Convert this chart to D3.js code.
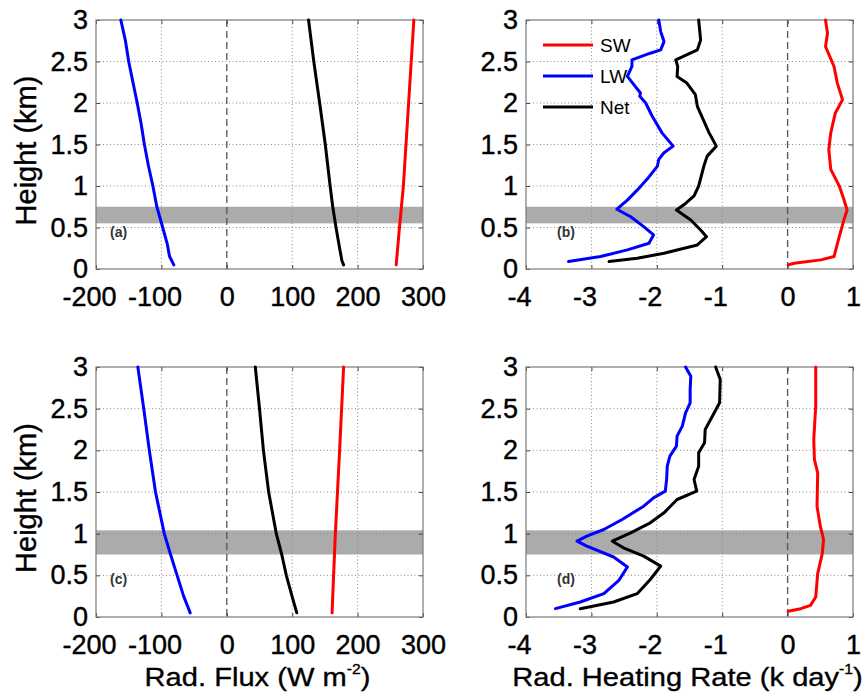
<!DOCTYPE html>
<html>
<head>
<meta charset="utf-8">
<script src="https://cdn.jsdelivr.net/npm/d3@7"></script>
<style>
  body { margin: 0; background: #fff; }
  text { font-family: "Liberation Sans", Arial, sans-serif; }
</style>
</head>
<body>
<div id="chart"></div>
<script>
// ---- data (value, height km) ----
var heightTicks = [0, 0.5, 1, 1.5, 2, 2.5, 3];
var fluxTicks = [-200, -100, 0, 100, 200, 300];
var rateTicks = [-4, -3, -2, -1, 0, 1];

// cloud layers (km)
var cloudTop = [0.55, 0.75];
var cloudBottom = [0.75, 1.04];

// (a) radiative flux, upper case
var swFluxA = [[259, 0.05], [264, 0.5], [270, 1], [278, 2], [286, 3]];
var lwFluxA = [[-81, 0.05], [-87.5, 0.15], [-91, 0.3], [-98, 0.5], [-107, 0.75], [-113, 1], [-120, 1.25], [-126, 1.5], [-131, 1.75], [-137, 2], [-150, 2.5], [-155, 2.75], [-162, 3]];
var netFluxA = [[178.6, 0.05], [176, 0.1], [172.5, 0.25], [167, 0.5], [162, 0.75], [158, 1], [150.6, 1.5], [142, 2], [133, 2.5], [125, 3]];

// (b) radiative heating rate, upper case
var swRateB = [[0.01, 0.05], [0.10, 0.07], [0.51, 0.11], [0.71, 0.15], [0.79, 0.39], [0.86, 0.59], [0.91, 0.71], [0.86, 0.84], [0.79, 1.0], [0.66, 1.2], [0.63, 1.44], [0.66, 1.64], [0.73, 1.88], [0.84, 2.04], [0.76, 2.24], [0.71, 2.44], [0.58, 2.68], [0.61, 2.84], [0.58, 3]];
var lwRateB = [[-3.35, 0.09], [-2.86, 0.15], [-2.45, 0.23], [-2.12, 0.31], [-2.05, 0.41], [-2.20, 0.51], [-2.40, 0.63], [-2.61, 0.72], [-2.45, 0.83], [-2.30, 0.95], [-2.15, 1.08], [-1.99, 1.24], [-1.97, 1.32], [-1.89, 1.40], [-1.75, 1.48], [-1.92, 1.64], [-2.07, 1.84], [-2.17, 2.0], [-2.26, 2.08], [-2.25, 2.12], [-2.33, 2.2], [-2.45, 2.32], [-2.38, 2.44], [-2.38, 2.52], [-2.10, 2.6], [-1.94, 2.64], [-1.89, 2.74], [-1.94, 2.86], [-1.97, 3]];
var netRateB = [[-2.73, 0.09], [-2.30, 0.13], [-1.89, 0.19], [-1.38, 0.29], [-1.24, 0.39], [-1.33, 0.47], [-1.48, 0.59], [-1.70, 0.71], [-1.56, 0.79], [-1.43, 0.88], [-1.36, 1.0], [-1.28, 1.24], [-1.23, 1.36], [-1.09, 1.48], [-1.20, 1.64], [-1.29, 1.8], [-1.38, 1.96], [-1.41, 2.1], [-1.54, 2.24], [-1.69, 2.32], [-1.68, 2.44], [-1.71, 2.52], [-1.38, 2.64], [-1.33, 2.76], [-1.36, 3]];

// (c) radiative flux, lower case
var swFluxC = [[161, 0.05], [163.3, 0.5], [166, 1], [172.5, 2], [178.6, 3]];
var lwFluxC = [[-56, 0.05], [-66, 0.25], [-76, 0.5], [-86, 0.75], [-95.6, 1], [-109, 1.5], [-118.5, 2], [-127, 2.5], [-136, 3]];
var netFluxC = [[107, 0.05], [99.7, 0.25], [91, 0.5], [84, 0.75], [75.7, 1], [64, 1.5], [56, 2], [50, 2.5], [43.6, 3]];

// (d) radiative heating rate, lower case
var swRateD = [[0.01, 0.07], [0.20, 0.10], [0.35, 0.14], [0.43, 0.24], [0.46, 0.52], [0.53, 0.76], [0.55, 0.93], [0.50, 1.09], [0.45, 1.33], [0.46, 1.73], [0.41, 1.89], [0.40, 2.13], [0.43, 2.53], [0.43, 3]];
var lwRateD = [[-3.55, 0.10], [-3.17, 0.18], [-2.81, 0.28], [-2.58, 0.44], [-2.45, 0.60], [-2.66, 0.72], [-3.07, 0.85], [-3.22, 0.91], [-3.07, 0.97], [-2.81, 1.05], [-2.53, 1.17], [-2.20, 1.33], [-2.05, 1.43], [-1.87, 1.51], [-1.85, 1.65], [-1.84, 1.81], [-1.80, 1.93], [-1.70, 2.05], [-1.69, 2.17], [-1.61, 2.29], [-1.56, 2.45], [-1.49, 2.57], [-1.49, 2.73], [-1.48, 2.89], [-1.56, 3]];
var netRateD = [[-3.17, 0.10], [-2.66, 0.18], [-2.30, 0.28], [-2.10, 0.45], [-1.94, 0.61], [-2.20, 0.73], [-2.51, 0.83], [-2.68, 0.91], [-2.40, 1.01], [-2.10, 1.13], [-1.89, 1.25], [-1.69, 1.41], [-1.39, 1.51], [-1.43, 1.65], [-1.36, 1.81], [-1.36, 1.97], [-1.27, 2.09], [-1.26, 2.25], [-1.15, 2.41], [-1.04, 2.57], [-1.03, 2.85], [-1.10, 3]];

var seriesNames = ["SW", "LW", "Net"];
var seriesColors = ["#ff0000", "#0000ff", "#000000"];

// ---- layout ----
var svgWidth = 867;
var svgHeight = 695;

var panels = [
  { label: "(a)", left: 96, right: 423, top: 20, bottom: 269, domain: [-200, 300], ticks: fluxTicks, band: cloudTop, lines: [swFluxA, lwFluxA, netFluxA], labelDx: 14, yTitle: true },
  { label: "(b)", left: 526, right: 853, top: 20, bottom: 269, domain: [-4, 1], ticks: rateTicks, band: cloudTop, lines: [swRateB, lwRateB, netRateB], labelDx: 31, legend: true },
  { label: "(c)", left: 96, right: 423, top: 367, bottom: 617, domain: [-200, 300], ticks: fluxTicks, band: cloudBottom, lines: [swFluxC, lwFluxC, netFluxC], labelDx: 14, yTitle: true, xTitle: "flux" },
  { label: "(d)", left: 526, right: 853, top: 367, bottom: 617, domain: [-4, 1], ticks: rateTicks, band: cloudBottom, lines: [swRateD, lwRateD, netRateD], labelDx: 31, xTitle: "rate" }
];

var svg = d3.select("#chart")
  .append("svg")
  .attr("width", svgWidth)
  .attr("height", svgHeight);

panels.forEach(function(p) {
  var g = svg.append("g");
  var x = d3.scaleLinear().domain(p.domain).range([p.left, p.right]);
  var y = d3.scaleLinear().domain([0, 3]).range([p.bottom, p.top]);

  // cloud layer
  g.append("rect")
    .attr("x", p.left)
    .attr("width", p.right - p.left)
    .attr("y", y(p.band[1]))
    .attr("height", y(p.band[0]) - y(p.band[1]))
    .attr("fill", "#ababab");

  // dotted grid
  var innerX = p.ticks.filter(d => d !== 0 && d !== p.domain[0] && d !== p.domain[1]);
  var innerY = heightTicks.filter(d => d !== 0 && d !== 3);
  g.selectAll(".vgrid").data(innerX).enter().append("line")
    .attr("x1", d => x(d)).attr("x2", d => x(d))
    .attr("y1", p.top).attr("y2", p.bottom)
    .attr("stroke", "#8a8a8a").attr("stroke-width", 1).attr("stroke-dasharray", "1,2.5");
  g.selectAll(".hgrid").data(innerY).enter().append("line")
    .attr("x1", p.left).attr("x2", p.right)
    .attr("y1", d => y(d)).attr("y2", d => y(d))
    .attr("stroke", "#8a8a8a").attr("stroke-width", 1).attr("stroke-dasharray", "1,2.5");

  // zero line
  g.append("line")
    .attr("x1", x(0)).attr("x2", x(0))
    .attr("y1", p.top).attr("y2", p.bottom)
    .attr("stroke", "#555").attr("stroke-width", 1.3).attr("stroke-dasharray", "7,4");

  // axes with inward ticks
  var bottomAxis = d3.axisBottom(x).tickValues(p.ticks).tickSize(-4).tickPadding(18).tickFormat(d => String(d));
  var leftAxis = d3.axisLeft(y).tickValues(heightTicks).tickSize(-4).tickPadding(8).tickFormat(d => String(d));

  var bx = g.append("g").attr("transform", `translate(0, ${p.bottom})`).call(bottomAxis);
  var ly = g.append("g").attr("transform", `translate(${p.left}, 0)`).call(leftAxis);
  g.append("g").attr("transform", `translate(0, ${p.top})`).call(d3.axisTop(x).tickValues(p.ticks).tickSize(-4).tickFormat(""));
  g.append("g").attr("transform", `translate(${p.right}, 0)`).call(d3.axisRight(y).tickValues(heightTicks).tickSize(-4).tickFormat(""));

  g.selectAll(".domain").remove();
  g.selectAll(".tick line").attr("stroke", "#444");
  g.selectAll(".tick text").attr("font-size", 27).attr("fill", "#000")
    .attr("stroke", "#000").attr("stroke-width", 0.4)
    .style("font-family", "'Liberation Sans', Arial, sans-serif");
  // minus labels: digits centred on the tick, hyphen hangs left
  bx.selectAll(".tick text").attr("dx", d => d < 0 ? -7 : 0);

  // frame
  g.append("rect")
    .attr("x", p.left).attr("y", p.top)
    .attr("width", p.right - p.left).attr("height", p.bottom - p.top)
    .attr("fill", "none").attr("stroke", "#7a7a7a").attr("stroke-width", 1.2);

  // profiles
  var line = d3.line().x(d => x(d[0])).y(d => y(d[1]));
  p.lines.forEach(function(data, i) {
    g.append("path")
      .datum(data)
      .attr("d", line)
      .attr("fill", "none")
      .attr("stroke", seriesColors[i])
      .attr("stroke-width", 3)
      .attr("stroke-linejoin", "round")
      .attr("stroke-linecap", "round");
  });

  // panel label
  g.append("text")
    .attr("x", p.left + p.labelDx)
    .attr("y", y(0.45))
    .attr("dy", "0.35em")
    .attr("font-size", 14)
    .attr("font-weight", "bold")
    .attr("fill", "#333")
    .text(p.label);

  // legend
  if (p.legend) {
    seriesNames.forEach(function(name, i) {
      var ly0 = 45 + i * 31;
      g.append("line")
        .attr("x1", 543).attr("x2", 593)
        .attr("y1", ly0).attr("y2", ly0)
        .attr("stroke", seriesColors[i]).attr("stroke-width", 3);
      g.append("text")
        .attr("x", 600).attr("y", ly0)
        .attr("dy", "0.35em")
        .attr("font-size", 19)
        .text(name);
    });
  }

  // y title
  if (p.yTitle) {
    g.append("text")
      .attr("transform", `translate(36, ${(p.top + p.bottom) / 2 + 6}) rotate(-90)`)
      .attr("text-anchor", "middle")
      .attr("font-size", 29)
      .attr("stroke", "#000").attr("stroke-width", 0.4)
      .text("Height (km)");
  }

  // x title
  if (p.xTitle) {
    var cx = (p.left + p.right) / 2;
    var t = g.append("text")
      .attr("transform", `translate(${cx - 2}, 686) scale(1.12, 1)`)
      .attr("text-anchor", "middle")
      .attr("font-size", 26)
      .attr("stroke", "#000").attr("stroke-width", 0.35);
    if (p.xTitle === "flux") {
      t.append("tspan").text("Rad. Flux (W m");
      t.append("tspan").attr("font-size", 14).attr("dy", -12).text("-2");
      t.append("tspan").attr("dy", 12).text(")");
    } else {
      t.append("tspan").text("Rad. Heating Rate (k day");
      t.append("tspan").attr("font-size", 14).attr("dy", -12).text("-1");
      t.append("tspan").attr("dy", 12).text(")");
    }
  }
});
</script>
</body>
</html>
